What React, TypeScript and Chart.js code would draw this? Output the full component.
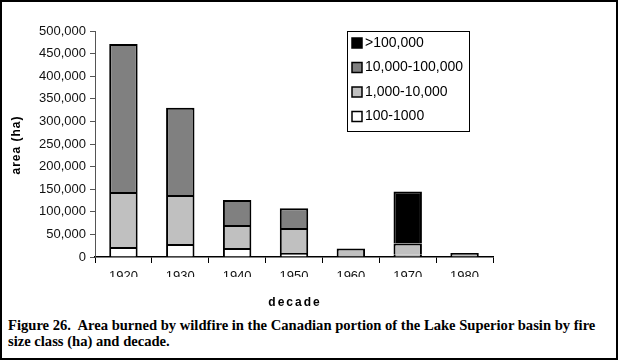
import React, { useEffect, useRef } from "react";
import { Chart, registerables } from "chart.js";

Chart.register(...registerables);

const decades = ["1920", "1930", "1940", "1950", "1960", "1970", "1980"];
const class100to1000 = [22000, 29000, 20000, 9000, 1000, 5000, 1000];
const class1000to10000 = [122000, 108000, 51000, 55000, 18000, 25000, 8000];
const class10000to100000 = [327000, 193000, 55000, 44000, null, null, null];
const classOver100000 = [null, null, null, null, null, 115000, null];
const yTickMax = 500000;
const yTickStep = 50000;
const xTitle = "decade";
const yTitle = "area (ha)";

const FONT = "'Liberation Sans', Arial, sans-serif";

const overlayPlugin = {
  id: "overlay",
  afterDraw(chart: any) {
    const ctx = chart.ctx;
    const area = chart.chartArea;
    ctx.save();
    ctx.fillStyle = "#000";
    ctx.font = `bold 12px ${FONT}`;
    ctx.textAlign = "center";
    ctx.textBaseline = "middle";
    (ctx as any).letterSpacing = "2px";
    ctx.fillText(xTitle, (area.left + area.right) / 2 + 1, 303);
    (ctx as any).letterSpacing = "1px";
    ctx.save();
    ctx.translate(17, (area.top + area.bottom) / 2 + 1);
    ctx.rotate(-Math.PI / 2);
    ctx.fillText(yTitle, 0, 0);
    ctx.restore();
    (ctx as any).letterSpacing = "0px";

    const lx = 347, ly = 31, lw = 122, lh = 100;
    ctx.strokeStyle = "#000";
    ctx.lineWidth = 1;
    ctx.strokeRect(lx + 0.5, ly + 0.5, lw, lh);
    const ds = chart.data.datasets.slice().reverse();
    ctx.font = `14px ${FONT}`;
    ctx.textAlign = "left";
    ctx.textBaseline = "middle";
    ds.forEach((d: any, i: number) => {
      const cy = 43 + i * 24.5;
      ctx.fillStyle = d.backgroundColor;
      ctx.fillRect(352, cy - 5, 10, 10);
      ctx.lineWidth = 1.5;
      ctx.strokeStyle = "#000";
      ctx.strokeRect(352, cy - 5, 10, 10);
      ctx.fillStyle = "#000";
      ctx.fillText(d.label, 365, cy);
    });
    ctx.restore();
  },
};

export default function App() {
  const ref = useRef<HTMLCanvasElement>(null);
  useEffect(() => {
    const canvas = ref.current!;
    const mk = (label: string, data: any[], color: string) => ({
      label,
      data,
      backgroundColor: color,
      borderColor: "#000",
      borderWidth: 2,
      borderSkipped: "start",
      barPercentage: 0.5,
      categoryPercentage: 1,
    });
    const chart = new Chart(canvas, {
      type: "bar",
      data: {
        labels: decades,
        datasets: [
          mk("100-1000", class100to1000, "#ffffff"),
          mk("1,000-10,000", class1000to10000, "#c0c0c0"),
          mk("10,000-100,000", class10000to100000, "#808080"),
          mk(">100,000", classOver100000, "#000000"),
        ],
      },
      options: {
        responsive: false,
        animation: false,
        devicePixelRatio: 1,
        layout: { padding: { left: 0, right: 125, top: 31, bottom: 33 } },
        plugins: { legend: { display: false }, tooltip: { enabled: false } },
        scales: {
          x: {
            stacked: true,
            offset: true,
            grid: {
              display: true,
              drawOnChartArea: false,
              drawTicks: true,
              tickLength: 6,
              offset: true,
              color: "#000",
              lineWidth: 1,
            },
            border: { display: true, color: "#000", width: 1.5 },
            ticks: { color: "#111", font: { family: FONT, size: 13 }, padding: 6, maxRotation: 0 },
            afterFit: (s: any) => { s.height = 20; },
          },
          y: {
            stacked: true,
            min: 0,
            max: yTickMax,
            grid: {
              display: true,
              drawOnChartArea: false,
              drawTicks: true,
              tickLength: 5,
              color: "#555",
              lineWidth: 1,
            },
            border: { display: true, color: "#555", width: 1 },
            ticks: {
              stepSize: yTickStep,
              color: "#111",
              font: { family: FONT, size: 13 },
              padding: 4,
              callback: (v: any) => Number(v).toLocaleString("en-US"),
            },
            afterFit: (s: any) => { s.width = 95; },
          },
        },
      },
      plugins: [overlayPlugin],
    });
    return () => chart.destroy();
  }, []);

  return (
    <div style={{ position: "fixed", left: 0, top: 0, width: 618, height: 360, background: "#fff" }}>
      <canvas ref={ref} width={618} height={310} style={{ position: "absolute", left: 0, top: 0 }} />
      <div
        style={{
          position: "absolute",
          left: 8,
          top: 317,
          fontFamily: "'Liberation Serif', 'Times New Roman', serif",
          fontWeight: "bold",
          fontSize: 14.6,
          lineHeight: "16px",
          whiteSpace: "pre",
          color: "#000",
        }}
      >
        {"Figure 26.  Area burned by wildfire in the Canadian portion of the Lake Superior basin by fire\nsize class (ha) and decade."}
      </div>
      <div
        style={{
          position: "absolute",
          left: 0,
          top: 0,
          width: 618,
          height: 360,
          border: "2px solid #000",
          boxSizing: "border-box",
          pointerEvents: "none",
        }}
      />
    </div>
  );
}
